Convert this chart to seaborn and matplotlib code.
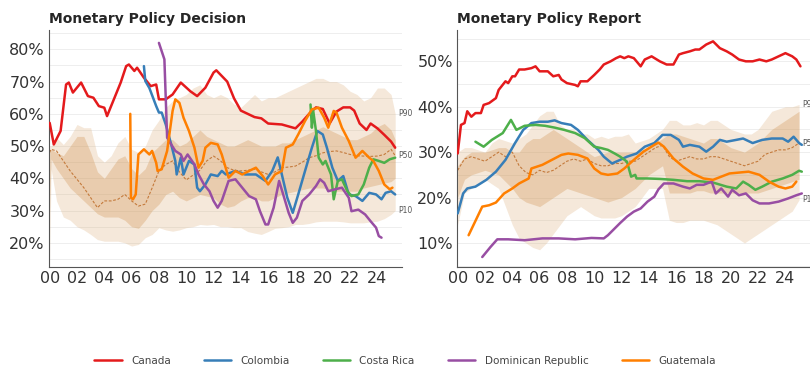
import numpy as np
import pandas as pd
import matplotlib
matplotlib.use("Agg")
import matplotlib.pyplot as plt
from matplotlib.ticker import MultipleLocator, FixedLocator
from matplotlib.lines import Line2D
import seaborn as sns

# --- DATA (years since 2000, values in %) ---
COUNTRIES = ["Canada", "Colombia", "Costa Rica", "Dominican Republic", "Guatemala"]
COLORS = ["#e41a1c", "#377eb8", "#4daf4a", "#984ea3", "#ff7f00"]

# Monetary Policy Decision
dec_canada_yr = [0, 0.3, 0.8, 1.2, 1.4, 1.7, 2.3, 2.8, 3.2, 3.6, 4.0, 4.2, 4.7, 5.2, 5.6, 5.8, 6.2, 6.4, 6.9, 7.4,
                 7.8, 8.0, 8.5, 9.0, 9.6, 10.3, 10.8, 11.4, 12.0, 12.2, 13.0, 13.5, 14.0, 15.0, 15.5, 16.0, 17.0,
                 18.0, 18.5, 19.0, 19.5, 20.0, 20.5, 21.0, 21.5, 22.0, 22.3, 22.7, 23.2, 23.5, 24.0, 24.5, 25.0, 25.3]
dec_canada = [57.2, 50.5, 54.7, 69.1, 69.7, 66.6, 69.7, 65.5, 65.0, 62.4, 61.9, 59.3, 64.5, 69.7, 74.8, 75.3, 73.3,
              74.3, 71.2, 68.6, 69.1, 64.5, 64.5, 66.0, 69.7, 67.0, 65.5, 68.1, 72.8, 73.5, 70.0, 64.8, 61.0, 59.0,
              58.6, 57.0, 56.7, 55.5, 57.6, 60.0, 62.0, 61.5, 57.0, 60.7, 62.0, 62.0, 61.0, 57.0, 55.0, 57.0, 55.5,
              53.5, 51.4, 49.5]
dec_colombia_yr = [6.9, 7.0, 7.3, 7.8, 8.0, 8.2, 8.5, 8.9, 9.2, 9.3, 9.6, 9.8, 10.2, 10.6, 10.8, 11.0, 11.4, 11.8,
                   12.3, 12.6, 12.9, 13.6, 14.3, 15.1, 15.8, 16.3, 16.7, 17.0, 17.4, 17.8, 18.2, 18.7, 19.2, 19.6,
                   20.0, 20.3, 20.7, 21.1, 21.5, 21.9, 22.4, 22.9, 23.4, 23.9, 24.3, 24.6, 25.0, 25.3]
dec_colombia = [74.8, 70.2, 68.0, 62.4, 60.4, 60.4, 56.7, 50.5, 45.4, 41.2, 46.4, 41.2, 45.4, 44.3, 37.1, 36.0, 38.1,
                41.2, 40.7, 42.3, 41.2, 42.3, 41.2, 41.2, 39.2, 42.3, 46.5, 41.2, 34.0, 29.3, 35.0, 42.3, 49.5, 54.7,
                53.6, 49.5, 43.3, 39.2, 40.7, 35.0, 34.5, 33.0, 35.5, 35.0, 33.5, 35.5, 36.0, 35.0]
dec_costa_rica_yr = [19.1, 19.2, 19.3, 19.5, 19.7, 20.0, 20.2, 20.6, 20.8, 21.1, 21.4, 21.8, 22.1, 22.6, 23.0, 23.4,
                     23.7, 24.1, 24.5, 24.9, 25.3]
dec_costa_rica = [62.9, 55.7, 60.9, 54.7, 46.4, 44.3, 45.4, 41.2, 33.5, 39.2, 39.7, 36.0, 34.5, 35.0, 38.1, 43.3,
                  45.9, 45.4, 44.8, 45.9, 46.4]
dec_dominican_yr = [8.0, 8.4, 8.6, 8.9, 9.2, 9.6, 9.8, 10.1, 10.6, 10.9, 11.3, 11.7, 12.0, 12.3, 12.6, 13.1, 13.6,
                    14.1, 14.6, 15.1, 15.4, 15.8, 16.0, 16.4, 16.8, 17.1, 17.5, 17.8, 18.1, 18.5, 19.0, 19.5, 19.8,
                    20.1, 20.4, 20.9, 21.4, 21.9, 22.1, 22.6, 23.1, 23.5, 23.9, 24.1, 24.3]
dec_dominican = [82.0, 76.9, 52.6, 50.5, 48.5, 47.4, 45.4, 47.4, 44.3, 41.2, 38.1, 36.0, 33.0, 30.9, 33.0, 39.2,
                 39.7, 37.1, 34.5, 33.5, 29.8, 25.7, 25.7, 30.9, 39.2, 35.0, 29.3, 26.2, 27.8, 33.0, 35.0, 37.6,
                 39.7, 38.6, 36.0, 36.6, 37.1, 34.0, 29.8, 30.3, 28.8, 26.7, 24.7, 22.1, 21.6]
dec_guatemala_yr = [5.9, 5.95, 6.1, 6.3, 6.5, 6.9, 7.3, 7.5, 7.8, 7.9, 8.2, 8.6, 9.0, 9.2, 9.5, 9.8, 10.2, 10.6,
                    10.9, 11.2, 11.4, 11.8, 12.3, 12.6, 13.1, 13.6, 14.1, 14.6, 15.1, 15.6, 16.0, 16.5, 17.0, 17.3,
                    17.8, 18.2, 18.7, 19.2, 19.7, 20.1, 20.4, 20.8, 21.0, 21.4, 21.9, 22.4, 22.9, 23.4, 23.7, 24.1,
                    24.5, 24.9, 25.1]
dec_guatemala = [60.0, 34.0, 33.5, 35.0, 47.4, 49.0, 47.4, 48.5, 44.8, 42.3, 42.8, 48.5, 60.9, 64.5, 63.4, 58.8,
                 54.7, 49.5, 43.3, 45.4, 49.5, 51.0, 50.5, 47.4, 40.2, 42.3, 41.2, 42.3, 43.3, 40.7, 38.1, 41.2,
                 42.3, 49.5, 50.5, 53.6, 57.8, 61.4, 61.9, 58.8, 55.7, 60.9, 60.4, 55.7, 51.6, 46.4, 48.5, 46.4,
                 45.4, 42.3, 38.1, 36.6, 37.1]

dec_band_yr = [0, 0.1, 0.5, 1, 1.5, 2, 2.5, 3, 3.5, 4, 4.5, 5, 5.5, 6, 6.5, 7, 7.5, 8, 8.5, 9, 9.5, 10, 10.5, 11,
               11.5, 12, 12.5, 13, 13.5, 14, 14.5, 15, 15.5, 16, 16.5, 17, 17.5, 18, 18.5, 19, 19.5, 20, 20.5, 21,
               21.5, 22, 22.5, 23, 23.5, 24, 24.5, 25, 25.3]
dec_p10 = [13, 43, 33, 28, 27, 25, 24, 22.6, 21, 20.5, 20.5, 20.5, 20, 19, 19.5, 21.6, 22.6, 24.7, 24, 23.6, 24,
           24.7, 25, 25.7, 25.5, 25.7, 25, 25, 24.7, 24.7, 23.5, 23, 22.6, 23.5, 24.5, 24.7, 25, 25.7, 25.7, 26,
           26.5, 26.7, 26.7, 26.7, 26.5, 26.2, 26.2, 26.2, 26.5, 26.7, 27.5, 28.8, 30]
dec_p25 = [30, 46, 43, 40, 37, 35, 33, 31, 29, 28, 28, 28, 27, 25, 24.5, 27, 30, 32, 35, 36, 34, 33, 34, 35, 34.5,
           34, 32, 31, 31.5, 33, 34, 34, 33, 33, 34, 35, 35.5, 36, 36.5, 37, 37, 37, 36.5, 36, 36, 36, 36, 37,
           37.5, 38, 38.5, 39, 40]
dec_p50 = [48, 49, 48.5, 45.4, 42.3, 39.7, 37.1, 34, 30.9, 33, 33, 33.5, 35, 33, 31.4, 32, 37, 42.3, 44.3, 45.4, 42,
           39.5, 41, 42.5, 45.4, 46.9, 45.5, 43.3, 42.5, 42.3, 42.5, 42.8, 42, 41.2, 42, 43.3, 43.5, 43.8, 45,
           46.4, 47, 47.9, 48.3, 48.5, 48, 47.4, 47, 46.9, 46.8, 46.9, 47.4, 49, 47]
dec_p75 = [48, 49, 48, 47, 50, 53, 53, 48, 42, 40, 43, 46, 47, 43, 41, 43, 48, 50, 52, 52, 50, 51, 53, 55, 53, 52,
           51, 50, 50, 51, 52, 51, 50, 50, 50, 51, 51, 52, 53, 54, 55, 56, 55, 54, 53, 52, 52, 53, 54, 56, 57, 55,
           52]
dec_p90 = [50, 50, 52.6, 50.5, 53, 56.7, 55.7, 55.7, 47, 45, 47, 51, 53, 49, 48, 50, 55, 58, 62, 64, 65, 66, 68, 69,
           66, 65, 66, 65, 63, 62, 64, 66, 64, 65, 65, 66, 67, 68, 69, 70, 71, 71, 70, 70, 69, 67, 66, 64, 65, 68,
           68, 66, 60]

# Monetary Policy Report
rep_canada_yr = [0, 0.24, 0.5, 0.7, 1.0, 1.3, 1.7, 1.9, 2.3, 2.8, 3.0, 3.5, 3.7, 4.0, 4.2, 4.5, 4.9, 5.4, 5.7, 6.0,
                 6.6, 7.0, 7.4, 7.6, 8.0, 8.6, 8.8, 9.0, 9.5, 10.0, 10.4, 10.7, 11.2, 11.6, 11.9, 12.2, 12.5, 12.9,
                 13.4, 13.7, 14.2, 14.8, 15.3, 15.8, 16.2, 16.5, 17.0, 17.4, 17.7, 18.2, 18.7, 19.2, 19.7, 20.1,
                 20.6, 21.1, 21.6, 22.1, 22.6, 23.0, 23.5, 24.0, 24.5, 24.8, 25.1]
rep_canada = [29.7, 36.0, 36.4, 39.0, 37.8, 38.6, 38.6, 40.4, 40.8, 41.9, 43.7, 45.6, 45.2, 46.7, 46.7, 48.2, 48.2,
              48.5, 48.9, 47.8, 47.8, 46.7, 47.0, 46.0, 45.2, 44.8, 44.5, 45.6, 45.6, 47.0, 48.2, 49.3, 50.0, 50.7,
              51.1, 50.7, 51.1, 50.7, 48.9, 50.4, 51.1, 50.0, 49.3, 49.3, 51.5, 51.8, 52.2, 52.6, 52.6, 53.7, 54.4,
              52.9, 52.2, 51.5, 50.4, 50.0, 50.0, 50.4, 50.0, 50.4, 51.1, 51.8, 51.1, 50.4, 48.9]
rep_colombia_yr = [0, 0.4, 0.7, 1.3, 2.1, 2.8, 3.5, 4.2, 4.8, 5.4, 6.0, 6.6, 7.1, 7.6, 8.3, 8.8, 9.5, 10.3, 10.7,
                   11.3, 11.9, 12.4, 13.1, 13.7, 14.4, 15.0, 15.6, 16.2, 16.5, 17.0, 17.7, 18.2, 18.7, 19.2, 19.7,
                   20.4, 20.9, 21.6, 22.3, 23.0, 23.8, 24.2, 24.6, 25.0, 25.2]
rep_colombia = [16.5, 20.9, 22.0, 22.4, 23.9, 25.7, 28.3, 32.0, 34.9, 36.4, 36.7, 36.7, 37.0, 36.4, 36.0, 34.9,
                32.7, 30.5, 29.0, 27.5, 28.3, 29.0, 29.7, 31.2, 32.0, 33.8, 33.8, 32.7, 31.2, 31.6, 31.2, 30.1,
                31.2, 32.7, 32.3, 32.7, 33.0, 32.0, 32.7, 33.0, 33.0, 32.3, 33.4, 32.0, 31.6]
rep_costa_rica_yr = [1.3, 1.9, 2.5, 3.3, 3.9, 4.3, 4.9, 5.7, 6.4, 7.1, 7.8, 8.6, 9.3, 10.0, 10.5, 11.0, 11.5, 11.9,
                     12.4, 12.7, 13.0, 13.1, 13.9, 14.8, 15.8, 16.8, 17.7, 18.7, 19.7, 20.4, 20.9, 21.3, 21.8,
                     22.3, 23.0, 23.8, 24.5, 25.0, 25.2]
rep_costa_rica = [32.3, 31.2, 32.7, 34.2, 37.1, 34.9, 35.8, 36.0, 35.8, 35.4, 34.9, 34.2, 33.1, 31.2, 30.9, 30.5,
                  29.7, 29.0, 27.9, 24.6, 25.0, 24.2, 24.2, 24.1, 23.9, 23.6, 23.6, 23.3, 22.4, 22.0, 23.5, 22.8,
                  21.7, 22.4, 23.5, 24.2, 25.0, 25.9, 25.7]
rep_dominican_yr = [1.8, 2.4, 2.9, 3.7, 4.9, 6.2, 7.4, 8.6, 9.8, 10.7, 11.0, 11.5, 11.9, 12.4, 12.9, 13.4, 13.9,
                    14.4, 14.7, 15.1, 15.8, 16.5, 17.0, 17.5, 18.0, 18.6, 18.9, 19.3, 19.8, 20.1, 20.6, 21.1, 21.6,
                    22.1, 22.8, 23.5, 24.2, 24.8, 25.2]
rep_dominican = [6.9, 9.1, 10.8, 10.8, 10.6, 11.0, 11.0, 10.8, 11.1, 11.0, 11.7, 13.2, 14.4, 15.8, 16.9, 17.6,
                 19.1, 20.2, 21.8, 23.1, 23.1, 22.4, 22.0, 22.8, 22.8, 23.5, 20.9, 22.0, 20.2, 21.7, 20.5, 20.9,
                 19.4, 18.7, 18.7, 19.1, 19.8, 20.5, 20.9]
rep_guatemala_yr = [0.8, 1.8, 2.3, 2.8, 3.4, 4.0, 4.5, 5.2, 5.4, 6.2, 6.9, 7.6, 8.1, 8.8, 9.5, 10.0, 10.5, 11.0,
                    11.7, 12.2, 12.9, 13.6, 14.4, 14.7, 15.1, 15.8, 16.5, 17.2, 18.0, 18.7, 19.3, 19.9, 20.6,
                    21.3, 22.1, 22.8, 23.5, 24.0, 24.5, 24.8]
rep_guatemala = [11.7, 18.0, 18.3, 18.9, 20.9, 22.0, 23.1, 24.2, 26.4, 27.2, 28.3, 29.4, 29.7, 29.4, 28.6, 26.4,
                 25.3, 25.0, 25.3, 26.4, 28.3, 30.1, 31.6, 32.1, 31.2, 28.6, 26.8, 25.3, 24.2, 23.9, 24.6, 25.3,
                 25.5, 25.7, 25.0, 23.5, 22.4, 22.0, 22.4, 23.5]

rep_band_yr = [0, 0.5, 1, 1.5, 2, 2.5, 3, 3.5, 4, 4.5, 5, 5.5, 6, 6.5, 7, 7.5, 8, 8.5, 9, 9.5, 10, 10.5, 11, 11.5,
               12, 12.5, 13, 13.5, 14, 14.5, 15, 15.5, 16, 16.5, 17, 17.5, 18, 18.5, 19, 19.5, 20, 20.5, 21, 21.5,
               22, 22.5, 23, 23.5, 24, 24.5, 25]
rep_p10 = [14, 21, 22, 23, 24, 23, 22, 18, 14, 11, 10, 9, 8.5, 10, 12, 14, 16, 17, 18, 17, 16, 15.5, 15.5, 15.5,
           16, 17, 18, 20, 22, 22, 22, 15, 14.5, 14.5, 15, 15, 15, 14.5, 14, 13, 12, 11, 10, 11, 12, 13, 14, 15,
           16, 17, 19.5]
rep_p25 = [20, 24, 25, 25.5, 26, 25.5, 25, 23.5, 22, 20, 19, 18.5, 18, 19, 20, 21, 22, 21.5, 21, 20.5, 20, 19.5, 19,
           19.5, 20, 21, 22, 23.5, 25, 26, 27, 21, 21, 21, 21, 21.5, 21.5, 21, 21, 21, 21, 21, 21, 21, 21, 21.5,
           22, 22.5, 23, 23.5, 24]
rep_p50 = [26, 28.5, 29, 28.5, 28, 29, 30, 29, 30, 27, 25.5, 25, 26, 25.5, 26, 27, 28, 28.5, 28, 28.5, 27.5, 27, 27,
           27.5, 27.5, 28, 28, 29, 30, 31, 31.5, 29, 28, 28.5, 29, 28.5, 28.5, 29, 29, 28.5, 28, 27.5, 27, 27.5,
           28, 29.5, 30, 30.5, 30.5, 31, 32]
rep_p75 = [27, 29, 30, 30, 30, 30.5, 31, 31, 30, 30, 32, 33, 33, 34, 35, 34, 33, 32, 31, 30, 29, 29.5, 30, 30, 30,
           30, 30, 30.5, 31, 32, 33, 34, 34, 33.5, 33, 32.5, 32, 33, 33, 32, 31, 30.5, 30, 31, 32, 33.5, 35, 36,
           37, 38, 39]
rep_p90 = [30, 31, 31, 30.5, 30, 32, 33, 32.5, 32, 33, 34, 36, 38, 39, 39, 36, 35, 35, 34, 34, 33, 33.5, 33, 33.5,
           33.5, 34, 32, 32.5, 33, 34, 35, 37, 37, 36, 36, 36.5, 36, 37, 37, 36, 35, 34.5, 34, 34, 35, 37, 39,
           39.5, 40, 40, 40.5]

DEC_LINES = [(dec_canada_yr, dec_canada), (dec_colombia_yr, dec_colombia), (dec_costa_rica_yr, dec_costa_rica),
             (dec_dominican_yr, dec_dominican), (dec_guatemala_yr, dec_guatemala)]
REP_LINES = [(rep_canada_yr, rep_canada), (rep_colombia_yr, rep_colombia), (rep_costa_rica_yr, rep_costa_rica),
             (rep_dominican_yr, rep_dominican), (rep_guatemala_yr, rep_guatemala)]


def long_frame(lines):
    parts = []
    for name, (yr, vals) in zip(COUNTRIES, lines):
        parts.append(pd.DataFrame({"year": yr, "value": vals, "country": name}))
    return pd.concat(parts, ignore_index=True)


def draw_panel(ax, title, lines, band_yr, p10, p25, p50, p75, p90, ylim, yticks):
    ax.fill_between(band_yr, p10, p90, color="#dcae7a", alpha=0.28, lw=0, zorder=1)
    ax.fill_between(band_yr, p25, p75, color="#d39a5c", alpha=0.35, lw=0, zorder=1)
    ax.plot(band_yr, p50, ls=(0, (2.5, 1.5)), color="#c47a3c", lw=0.8, zorder=2)

    df = long_frame(lines)
    sns.lineplot(data=df, x="year", y="value", hue="country", hue_order=COUNTRIES,
                 palette=dict(zip(COUNTRIES, COLORS)), estimator=None, sort=False,
                 lw=1.8, legend=False, ax=ax, zorder=3)

    # percentile labels at the right end
    for lab, arr in [("P90", p90), ("P50", p50), ("P10", p10)]:
        ax.text(band_yr[-1] + 0.25, arr[-1], lab, fontsize=5.5, color="#555555",
                va="center", ha="left", clip_on=False)

    ax.set_xlim(-0.05, 25.8)
    ax.set_ylim(*ylim)
    ax.set_xticks(range(0, 25, 2))
    ax.set_xticklabels([f"{t:02d}" for t in range(0, 25, 2)])
    ax.xaxis.set_minor_locator(FixedLocator(range(1, 26, 2)))
    ax.set_yticks(yticks)
    ax.set_yticklabels([f"{t}%" for t in yticks])
    ax.yaxis.set_minor_locator(MultipleLocator(2))
    for v in np.arange(0, 100, 5):
        if ylim[0] < v < ylim[1]:
            ax.axhline(v, color="#ebebeb", lw=0.6, zorder=0)
    ax.tick_params(which="major", direction="in", length=4, width=0.6, labelsize=11.5,
                   colors="#333333", pad=3)
    ax.tick_params(which="minor", direction="in", length=2, width=0.5, colors="#555555")
    for s in ["top", "right"]:
        ax.spines[s].set_visible(False)
    for s in ["left", "bottom"]:
        ax.spines[s].set_color("#555555")
        ax.spines[s].set_linewidth(0.8)
    ax.set_xlabel("")
    ax.set_ylabel("")
    ax.set_title(title, loc="left", fontsize=10, fontweight="bold", pad=5)


sns.set_style("white")
plt.rcParams["font.family"] = ["DejaVu Sans"]

fig = plt.figure(figsize=(8.1, 3.69), dpi=100)
ax1 = fig.add_axes([0.0605, 0.2764, 0.4358, 0.6423])
ax2 = fig.add_axes([0.5642, 0.2764, 0.4358, 0.6423])

draw_panel(ax1, "Monetary Policy Decision", DEC_LINES, dec_band_yr, dec_p10, dec_p25, dec_p50,
           dec_p75, dec_p90, (12.5, 86), [20, 30, 40, 50, 60, 70, 80])
draw_panel(ax2, "Monetary Policy Report", REP_LINES, rep_band_yr, rep_p10, rep_p25, rep_p50,
           rep_p75, rep_p90, (4.7, 56.9), [10, 20, 30, 40, 50])

handles = [Line2D([0], [0], color=c, lw=1.8) for c in COLORS]
leg = fig.legend(handles, COUNTRIES, loc="center", bbox_to_anchor=(0.5, 0.022), ncol=5, frameon=False,
                 fontsize=7.5, handlelength=2.6, columnspacing=3.2, handletextpad=0.9)
for t in leg.get_texts():
    t.set_color("#444444")

fig.savefig("out.png", dpi=100)
